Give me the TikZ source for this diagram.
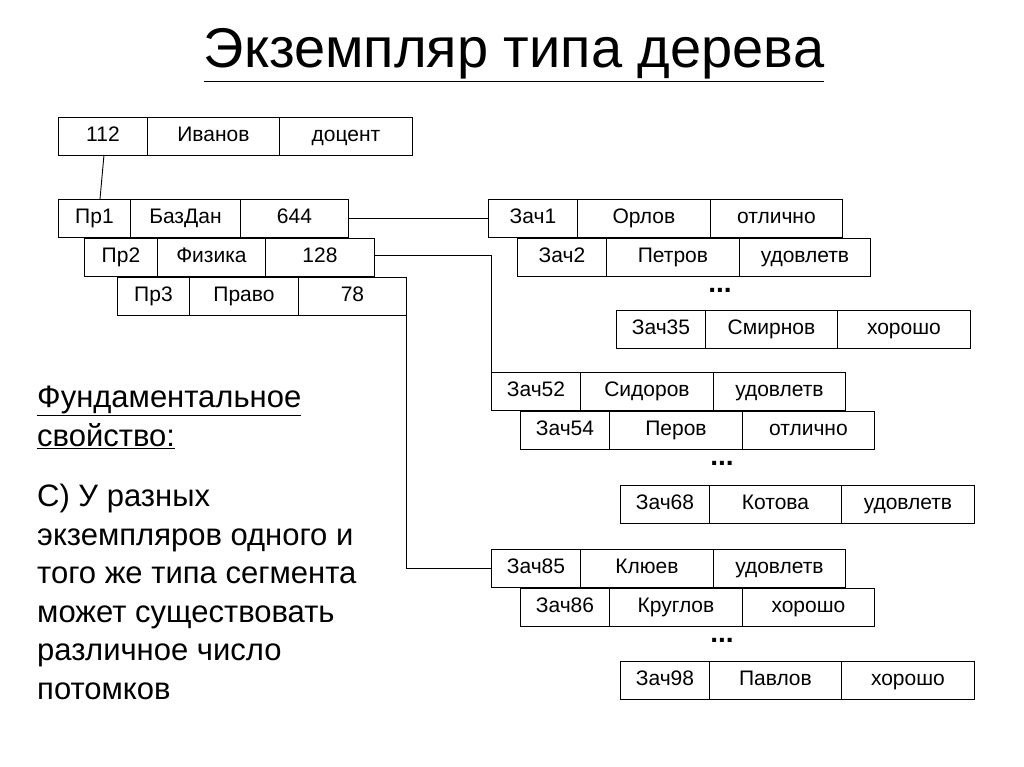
\documentclass[tikz,border=0pt]{standalone}
\usepackage{fontspec}
\setmainfont{Liberation Sans}
\begin{document}
\begin{tikzpicture}[x=1pt,y=-1pt,
  cell/.style={draw,line width=0.9pt,anchor=north west,inner sep=0pt,minimum height=38pt,text height=15pt,text depth=4pt,font=\fontsize{21}{24}\selectfont},
  conn/.style={draw,line width=0.9pt},
  dots/.style={font=\bfseries\fontsize{28}{28}\selectfont}]
\useasboundingbox (0,0) rectangle (1024,767);
\newcommand\myrec[9]{%
  \node[cell,minimum width={#3-#2}] (#1a) at (#2,#5) {#7};
  \node[cell,minimum width={#4-#3}] (#1b) at (#3,#5) {#8};
  \node[cell,minimum width={#6-#4}] (#1c) at (#4,#5) {#9};}
\node[font=\fontsize{56}{60}\selectfont] (title) at (514,55) {\underline{Экземпляр типа дерева}};
\myrec{t}{58}{147}{279}{117}{412}{112}{Иванов}{доцент}
\myrec{p1}{58}{130}{240}{199}{348}{Пр1}{БазДан}{644}
\myrec{p2}{84}{157}{265}{238}{374}{Пр2}{Физика}{128}
\myrec{p3}{117}{189}{298}{277}{406}{Пр3}{Право}{78}
\myrec{z1}{488}{577}{710}{199}{842}{Зач1}{Орлов}{отлично}
\myrec{z2}{517}{606}{739}{238}{870}{Зач2}{Петров}{удовлетв}
\myrec{z35}{616}{705}{837}{310}{970}{Зач35}{Смирнов}{хорошо}
\myrec{z52}{491}{580}{713}{372}{845}{Зач52}{Сидоров}{удовлетв}
\myrec{z54}{520}{609}{742}{411}{874}{Зач54}{Перов}{отлично}
\myrec{z68}{620}{709}{841}{485}{974}{Зач68}{Котова}{удовлетв}
\myrec{z85}{491}{580}{713}{549}{845}{Зач85}{Клюев}{удовлетв}
\myrec{z86}{520}{609}{742}{588}{874}{Зач86}{Круглов}{хорошо}
\myrec{z98}{620}{709}{841}{661}{974}{Зач98}{Павлов}{хорошо}
\node[dots] (d1) at (720,290) {...};
\node[dots] (d2) at (722,463) {...};
\node[dots] (d3) at (722,640) {...};
\draw[conn] (ta.south east)++(-44,0) coordinate (s1) -- ([xshift=42]p1a.north west);
\draw[conn] (p1c.east) -- (z1a.west);
\draw[conn] ([yshift=2]p2c.east) -| (z52a.north west);
\draw[conn] (p3c.north east) |- (z85a.west);
\node[anchor=north west,align=left,font=\fontsize{31}{38.5}\selectfont,inner sep=0pt] (f) at (37,386) {\underline{Фундаментальное}\\\underline{свойство:}};
\node[anchor=north west,align=left,font=\fontsize{31}{38.5}\selectfont,inner sep=0pt] (g) at (37,484) {С) У разных\\экземпляров одного и\\того же типа сегмента\\может существовать\\различное число\\потомков};
\end{tikzpicture}
\end{document}
